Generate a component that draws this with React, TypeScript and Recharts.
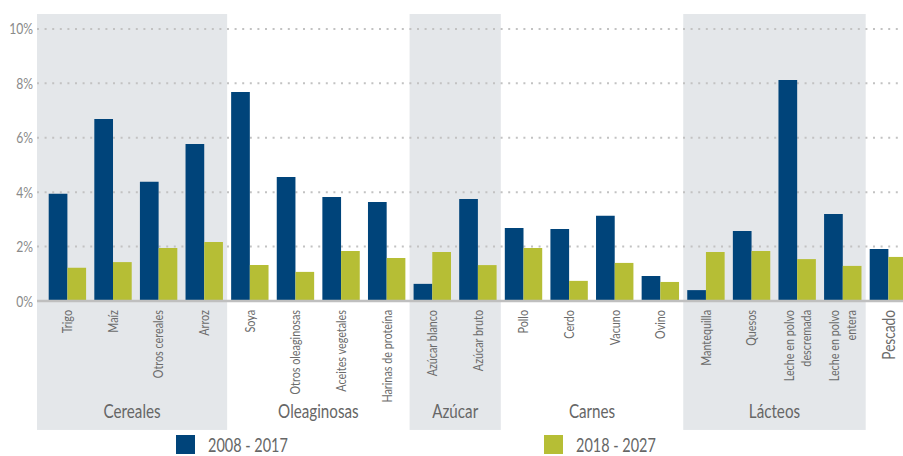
import React from 'react';
import { BarChart, Bar, XAxis, YAxis, ReferenceArea, ReferenceLine, Legend } from 'recharts';

const categories = [
  'Trigo', 'Maíz', 'Otros cereales', 'Arroz',
  'Soya', 'Otros oleaginosas', 'Aceites vegetales', 'Harinas de proteína',
  'Azúcar blanco', 'Azúcar bruto',
  'Pollo', 'Cerdo', 'Vacuno', 'Ovino',
  'Mantequilla', 'Quesos', 'Leche en polvo\ndescremada', 'Leche en polvo\nentera',
  'Pescado',
];

const series2008 = [3.94, 6.69, 4.38, 5.77, 7.68, 4.56, 3.82, 3.64, 0.63, 3.75, 2.68, 2.65, 3.13, 0.92, 0.40, 2.57, 8.12, 3.20, 1.91];
const series2018 = [1.22, 1.43, 1.95, 2.17, 1.32, 1.07, 1.84, 1.58, 1.80, 1.32, 1.95, 0.74, 1.40, 0.70, 1.80, 1.84, 1.54, 1.29, 1.62];

const seriesNames = ['2008 - 2017', '2018 - 2027'];
const yTicks = [0, 2, 4, 6, 8, 10];
const gridValues = [2, 4, 6, 8, 10];

const groups = [
  { name: 'Cereales', from: 'Trigo', to: 'Arroz', shaded: true, extendLeft: true },
  { name: 'Oleaginosas', from: 'Soya', to: 'Harinas de proteína', shaded: false, extendLeft: false },
  { name: 'Azúcar', from: 'Azúcar blanco', to: 'Azúcar bruto', shaded: true, extendLeft: false },
  { name: 'Carnes', from: 'Pollo', to: 'Ovino', shaded: false, extendLeft: false },
  { name: 'Lácteos', from: 'Mantequilla', to: 'Leche en polvo\nentera', shaded: true, extendLeft: false },
];

const data = categories.map((c, i) => ({ name: c, a: series2008[i], b: series2018[i] }));

const FONT = "Lato, 'Open Sans', sans-serif";
const SX = 0.76;
const DARK = '#00447a';
const GREEN = '#b6be35';
const BAND = '#e4e7ea';
const PAD_LEFT = 7.7;

const CategoryTick = (props: any) => {
  const { x, y, payload } = props;
  const lines = String(payload.value).split('\n');
  const big = payload.value === 'Pescado';
  const fs = big ? 18 : 13.5;
  const sx = big ? SX : 0.8;
  const lh = 17;
  return (
    <g transform={`translate(${x},${y}) rotate(-90) scale(${sx},1)`}>
      <text x={0} y={0} textAnchor="end" fill="#6b6b6b" fontSize={fs} fontFamily={FONT}>
        {lines.map((l, i) => (
          <tspan key={i} x={0} dy={i === 0 ? fs * 0.35 - ((lines.length - 1) * lh) / 2 : lh}>
            {l}
          </tspan>
        ))}
      </text>
    </g>
  );
};

const YTick = (props: any) => {
  const { x, y, payload } = props;
  return (
    <g transform={`translate(${x},${y}) scale(${SX},1)`}>
      <text x={0} y={0} dy={5.5} textAnchor="end" fill="#8a8a8a" fontSize={16} fontFamily={FONT}>
        {`${payload.value}%`}
      </text>
    </g>
  );
};

const makeShape = (g: any) => (p: any) => {
  const ext = g.extendLeft ? PAD_LEFT : 0;
  const x = p.x - ext;
  const w = p.width + ext;
  return (
    <g>
      {g.shaded && <rect x={x} y={p.y} width={w} height={p.height} fill={BAND} />}
      <g transform={`translate(${x + w / 2},${p.y + p.height - 12}) scale(0.8,1)`}>
        <text x={0} y={0} textAnchor="middle" fill="#666" fontSize={19} fontFamily={FONT}>
          {g.name}
        </text>
      </g>
    </g>
  );
};

const LegendContent = () => (
  <div style={{ display: 'flex', paddingLeft: 176, height: 26, fontFamily: FONT }}>
    {[DARK, GREEN].map((c, i) => (
      <div key={i} style={{ width: 397, display: 'flex', alignItems: 'center', paddingTop: 3 }}>
        <span style={{ display: 'inline-block', width: 19, height: 19, background: c }} />
        <span
          style={{
            display: 'inline-block',
            marginLeft: 13,
            fontSize: 19,
            color: '#666',
            transform: `scaleX(${SX})`,
            transformOrigin: 'left center',
            whiteSpace: 'nowrap',
          }}
        >
          {seriesNames[i]}
        </span>
      </div>
    ))}
  </div>
);

export default function App() {
  return (
    <div style={{ position: 'absolute', left: 0, top: 0, width: 903, height: 456, overflow: 'hidden', background: '#fff' }}>
      <BarChart
        width={912}
        height={456}
        data={data}
        margin={{ top: 14, right: 0.7, left: 0, bottom: 0 }}
        barGap={0}
        barSize={18.7}
      >
        {groups.map((g) => (
          <ReferenceArea
            key={g.name}
            x1={g.from}
            x2={g.to}
            y1={-4.74}
            y2={10.55}
            ifOverflow="visible"
            shape={makeShape(g)}
            zIndex={-150}
          />
        ))}
        {gridValues.map((v) => (
          <ReferenceLine
            key={v}
            y={v}
            stroke="#c2c2c2"
            strokeWidth={2}
            strokeDasharray="2 5.6"
            ifOverflow="visible"
            zIndex={-120}
          />
        ))}
        <XAxis
          dataKey="name"
          interval={0}
          height={129}
          padding={{ left: PAD_LEFT, right: 0 }}
          tickLine={false}
          tickSize={0}
          tickMargin={9}
          axisLine={{ stroke: '#bfbfbf', strokeWidth: 2.5 }}
          tick={(p: any) => <CategoryTick {...p} />}
        />
        <YAxis
          width={37}
          domain={[0, 10.55]}
          ticks={yTicks}
          allowDataOverflow
          axisLine={false}
          tickLine={false}
          tickSize={0}
          tickMargin={4}
          tick={(p: any) => <YTick {...p} />}
        />
        <Legend
          verticalAlign="bottom"
          content={<LegendContent />}
          wrapperStyle={{ left: 0, bottom: 0, width: 912, height: 26 }}
        />
        <Bar dataKey="a" name={seriesNames[0]} fill={DARK} isAnimationActive={false} />
        <Bar dataKey="b" name={seriesNames[1]} fill={GREEN} isAnimationActive={false} />
      </BarChart>
    </div>
  );
}
